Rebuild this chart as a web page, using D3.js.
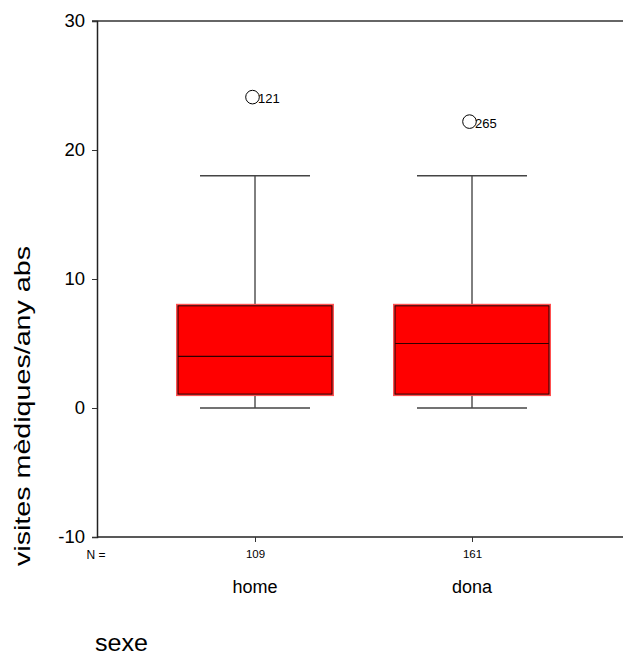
<!DOCTYPE html>
<html><head><meta charset="utf-8">
<script src="https://cdn.jsdelivr.net/npm/d3@7"></script>
<style>body{margin:0;background:#fff}svg{display:block;font-family:Arial,"Liberation Sans",sans-serif}</style>
</head><body><svg id="c" width="623" height="657"></svg>
<script>
const categories = ["home", "dona"];
const counts = [109, 161];
const mins = [0, 0];
const q1s = [1, 1];
const medians = [4, 5];
const q3s = [8, 8];
const maxs = [18, 18];
const outlierValues = [24.1, 22.2];
const outlierIds = ["121", "265"];
const yTicks = [-10, 0, 10, 20, 30];
const yLabel = "visites mèdiques/any abs";
const xLabel = "sexe";

const svg = d3.select("#c");
const mLeft = 97, mTop = 21, mBottom = 537, mRight = 623;
const y = d3.scaleLinear().domain([-10, 30]).range([mBottom, mTop]);
const x = d3.scalePoint().domain(categories).range([255, 472]);
const boxW = 156, capW = 110;
const FONT = "Arial,'Liberation Sans',sans-serif";

svg.append("line").attr("x1", mLeft - 5).attr("x2", mRight).attr("y1", mTop).attr("y2", mTop).attr("stroke", "#333").attr("stroke-width", 1.5);
svg.append("line").attr("x1", mLeft).attr("x2", mRight).attr("y1", mBottom).attr("y2", mBottom).attr("stroke", "#222").attr("stroke-width", 1.5);

const yAxis = svg.append("g").attr("transform", `translate(${mLeft},0)`)
  .call(d3.axisLeft(y).tickValues(yTicks).tickSize(5).tickPadding(7).tickFormat(d => String(d)));
yAxis.select(".domain").attr("stroke", "#222").attr("stroke-width", 1.5);
yAxis.selectAll(".tick line").attr("stroke", "#333");
yAxis.selectAll("text").attr("font-size", 18.5).attr("fill", "#000").attr("font-family", FONT);

const xAxis = svg.append("g").attr("transform", `translate(0,${mBottom})`)
  .call(d3.axisBottom(x).tickSize(5).tickFormat((d, i) => counts[i]).tickPadding(8));
xAxis.select(".domain").remove();
xAxis.selectAll(".tick line").attr("stroke", "#333");
xAxis.selectAll("text").attr("font-size", 11.5).attr("fill", "#000").attr("font-family", FONT);

svg.append("text").attr("x", 96).attr("y", 559).attr("text-anchor", "middle").attr("font-size", 12).text("N =");

categories.forEach((c, i) => {
  const cx = x(c);
  const g = svg.append("g");
  g.append("line").attr("x1", cx).attr("x2", cx).attr("y1", y(q3s[i])).attr("y2", y(maxs[i])).attr("stroke", "#000");
  g.append("line").attr("x1", cx).attr("x2", cx).attr("y1", y(q1s[i])).attr("y2", y(mins[i])).attr("stroke", "#000");
  g.append("line").attr("x1", cx - capW / 2).attr("x2", cx + capW / 2).attr("y1", y(maxs[i])).attr("y2", y(maxs[i])).attr("stroke", "#444").attr("stroke-width", 1.5);
  g.append("line").attr("x1", cx - capW / 2).attr("x2", cx + capW / 2).attr("y1", y(mins[i])).attr("y2", y(mins[i])).attr("stroke", "#444").attr("stroke-width", 1.5);
  g.append("rect").attr("x", cx - boxW / 2).attr("y", y(q3s[i])).attr("width", boxW).attr("height", y(q1s[i]) - y(q3s[i]))
    .attr("fill", "#ff0000").attr("stroke", "#ff5050").attr("stroke-width", 2);
  g.append("rect").attr("x", cx - boxW / 2 + 1).attr("y", y(q3s[i]) + 1).attr("width", boxW - 2).attr("height", y(q1s[i]) - y(q3s[i]) - 2)
    .attr("fill", "none").attr("stroke", "#200000").attr("stroke-width", 1);
  g.append("line").attr("x1", cx - boxW / 2 + 1).attr("x2", cx + boxW / 2 - 1).attr("y1", y(medians[i])).attr("y2", y(medians[i])).attr("stroke", "#300000").attr("stroke-width", 1.2);
  g.append("circle").attr("cx", cx - 2.5).attr("cy", y(outlierValues[i])).attr("r", 6.8).attr("fill", "none").attr("stroke", "#000");
  g.append("text").attr("x", cx + 3).attr("y", y(outlierValues[i]) + 6).attr("font-size", 13).text(outlierIds[i]);
  svg.append("text").attr("x", cx).attr("y", 593).attr("text-anchor", "middle").attr("font-size", 18).text(c);
});

svg.append("text").attr("transform", "translate(30,406) rotate(-90)").attr("text-anchor", "middle").attr("font-size", 22)
  .attr("textLength", 320).attr("lengthAdjust", "spacingAndGlyphs").text(yLabel);
svg.append("text").attr("x", 95).attr("y", 651).attr("font-size", 23).attr("textLength", 53).attr("lengthAdjust", "spacingAndGlyphs").text(xLabel);
</script></body></html>
